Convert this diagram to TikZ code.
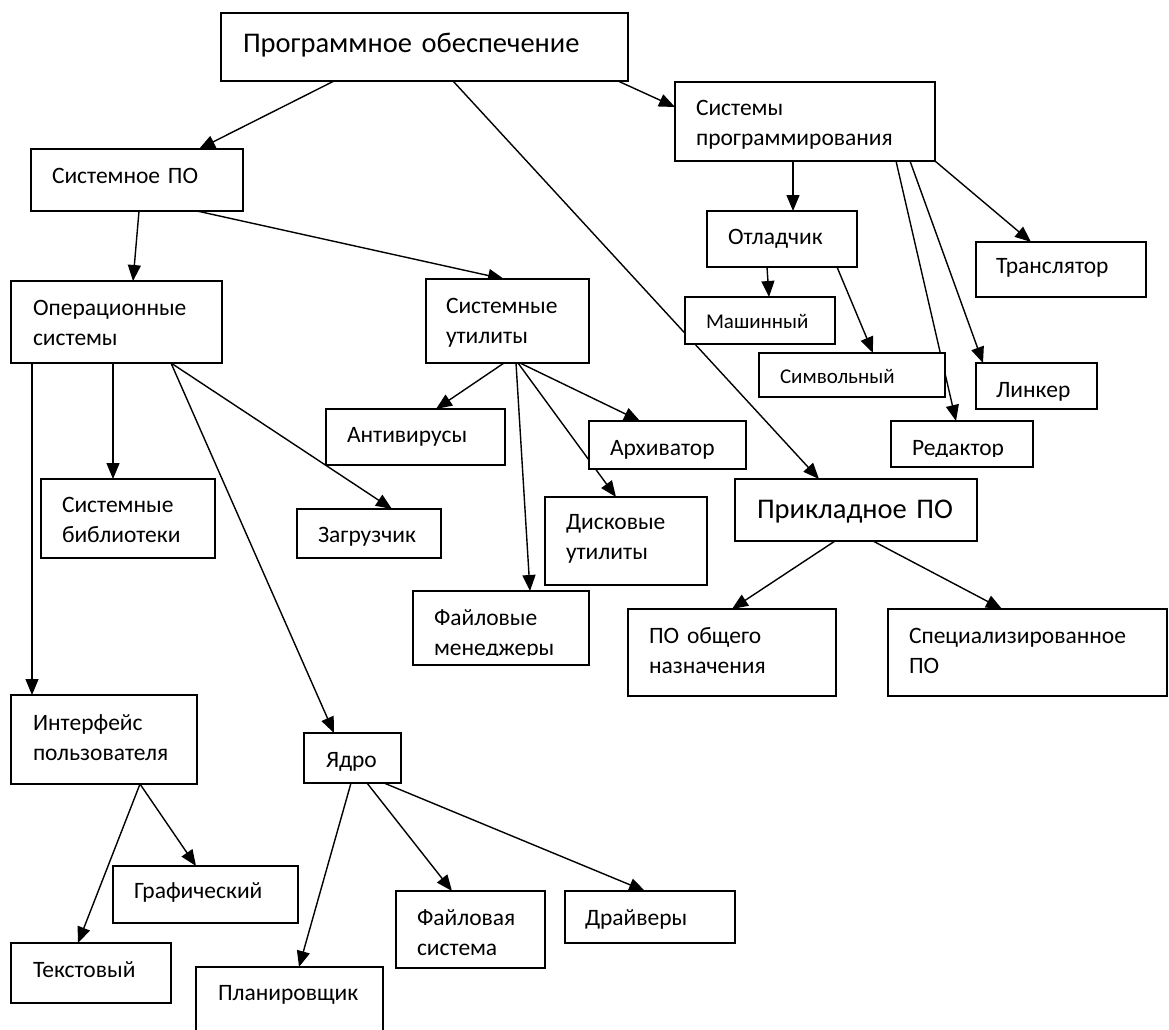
\documentclass[tikz,border=0pt]{standalone}
\usepackage{fontspec}
\setmainfont{Carlito}
\usetikzlibrary{arrows.meta}
\pgfdeclarelayer{bg}
\pgfdeclarelayer{paper}
\pgfsetlayers{paper,bg,main}
\tikzset{
  box/.style={draw, line width=1.6pt, fill=white, anchor=north west, outer sep=0pt,
    inner ysep=0pt, align=left, font=\fontsize{23.5}{30}\selectfont},
  big/.style={font=\fontsize{28.5}{34}\selectfont},
  small/.style={font=\fontsize{21}{26}\selectfont},
  conn/.style={line width=1.4pt, -{Triangle[length=16pt,width=13pt]}},
}
\begin{document}
\begin{tikzpicture}[x=1pt,y=-1pt]
\useasboundingbox (0,0) rectangle (1169,1029);
\begin{pgfonlayer}{paper}
\fill[white] (0,0) rectangle (1169,1029);
\end{pgfonlayer}

% nodes
\node[box,big, inner xsep=22pt, text width=363pt, text height=39pt, text depth=29pt] (prog) at (221,13) {Программное обеспечение};
\node[box, inner xsep=21pt, text width=170pt, text height=34pt, text depth=28pt] (sys) at (31,149) {Системное ПО};
\node[box, inner xsep=22pt, text width=167pt, text height=34pt, text depth=48pt] (os) at (11,281) {Операционные\\системы};
\node[box, inner xsep=20pt, text width=123pt, text height=34pt, text depth=50pt] (util) at (426,279) {Системные\\утилиты};
\node[box, inner xsep=21pt, text width=218pt, text height=33pt, text depth=46pt] (prsys) at (675,82) {Системы\\программирования};
\node[box, inner xsep=21pt, text width=108pt, text height=33pt, text depth=23pt] (debug) at (707,211) {Отладчик};
\node[box,small, inner xsep=21pt, text width=108pt, text height=31pt, text depth=16pt] (mach) at (685,297) {Машинный};
\node[box,small, inner xsep=21pt, text width=144pt, text height=30pt, text depth=14pt] (symb) at (759,353) {Символьный};
\node[box, inner xsep=20pt, text width=130pt, text height=31pt, text depth=24pt] (trans) at (976,242) {Транслятор};
\node[box, inner xsep=20pt, text width=81pt, text height=34pt, text depth=12pt] (link) at (976,363) {Линкер};
\node[box, inner xsep=21pt, text width=100pt, text height=34pt, text depth=12pt] (edit) at (891,421) {Редактор};
\node[box, inner xsep=21pt, text width=115pt, text height=34pt, text depth=14pt] (arch) at (589,421) {Архиватор};
\node[box,big, inner xsep=22pt, text width=198pt, text height=39pt, text depth=23pt] (app) at (735,479) {Прикладное ПО};
\node[box, inner xsep=21pt, text width=120pt, text height=32pt, text depth=56pt] (disk) at (545,497) {Дисковые\\утилиты};
\node[box, inner xsep=21pt, text width=166pt, text height=34pt, text depth=53pt] (gen) at (628,609) {ПО общего\\назначения};
\node[box, inner xsep=21pt, text width=237pt, text height=34pt, text depth=53pt] (spec) at (888,609) {Специализированное\\ПО};
\node[box, inner xsep=21pt, text width=132pt, text height=33pt, text depth=46pt] (lib) at (41,479) {Системные\\библиотеки};
\node[box, inner xsep=21pt, text width=102pt, text height=33pt, text depth=16pt] (boot) at (297,509) {Загрузчик};
\node[box, inner xsep=21pt, text width=137pt, text height=33pt, text depth=23pt] (anti) at (326,409) {Антивирусы};
\node[box, inner xsep=21pt, text width=134pt, text height=34pt, text depth=40pt] (fm) at (413,591) {Файловые\\менеджеры};
\node[box, inner xsep=22pt, text width=142pt, text height=35pt, text depth=54pt] (ui) at (11,695) {Интерфейс\\пользователя};
\node[box, inner xsep=22pt, text width=53pt, text height=34pt, text depth=16pt] (core) at (304,733) {Ядро};
\node[box, inner xsep=21pt, text width=143pt, text height=32pt, text depth=25pt] (gfx) at (113,866) {Графический};
\node[box, inner xsep=22pt, text width=116pt, text height=34pt, text depth=26pt] (txt) at (11,943) {Текстовый};
\node[box, inner xsep=22pt, text width=143pt, text height=33pt, text depth=57pt] (sched) at (196,967) {Планировщик};
\node[box, inner xsep=21pt, text width=107pt, text height=34pt, text depth=43pt] (fs) at (396,891) {Файловая\\система};
\node[box, inner xsep=20pt, text width=130pt, text height=34pt, text depth=18pt] (drv) at (565,891) {Драйверы};

% clipped text bottoms
\fill[white] (414.8,655.5) rectangle (587.2,663.2);
\fill[white] (892.8,457) rectangle (1031.2,465.2);

% connectors (behind the boxes)
\begin{pgfonlayer}{bg}
\draw[conn] ([xshift=113pt]prog.south west) -- ([xshift=168pt]sys.north west);
\draw[conn] ([xshift=232pt]prog.south west) -- ([xshift=84pt]app.north west);
\draw[conn] ([xshift=-10pt]prog.south east) -- ([yshift=-25pt]prsys.north west);
\draw[conn] ([xshift=108pt]sys.south west) -- ([xshift=122pt]os.north west);
\draw[conn] ([xshift=166pt]sys.south west) -- ([xshift=78pt]util.north west);
\draw[conn] ([xshift=102pt]os.south west) -- ([xshift=72pt]lib.north west);
\draw[conn] ([xshift=160pt]os.south west) -- ([xshift=95pt]boot.north west);
\draw[conn] ([xshift=160pt]os.south west) -- ([xshift=30pt]core.north west);
\draw[conn] ([xshift=21pt]os.south west) -- ([xshift=21pt]ui.north west);
\draw[conn] ([xshift=78pt]util.south west) -- ([xshift=110pt]anti.north west);
\draw[conn] ([xshift=90pt]util.south west) -- ([xshift=117pt]fm.north west);
\draw[conn] ([xshift=92pt]util.south west) -- ([xshift=71pt]disk.north west);
\draw[conn] ([xshift=94pt]util.south west) -- ([xshift=51pt]arch.north west);
\draw[conn] ([xshift=118pt]prsys.south west) -- ([xshift=86pt]debug.north west);
\draw[conn] ([xshift=60pt]debug.south west) -- ([xshift=84pt]mach.north west);
\draw[conn] ([xshift=130pt]debug.south west) -- ([xshift=114pt]symb.north west);
\draw[conn] ([xshift=221pt]prsys.south west) -- ([xshift=65pt]edit.north west);
\draw[conn] ([xshift=235pt]prsys.south west) -- ([xshift=7pt]link.north west);
\draw[conn] (prsys.south east) -- ([xshift=55pt]trans.north west);
\draw[conn] ([xshift=100pt]app.south west) -- ([xshift=104pt]gen.north west);
\draw[conn] ([xshift=138pt]app.south west) -- ([xshift=114pt]spec.north west);
\draw[conn] ([xshift=129pt]ui.south west) -- ([xshift=83pt]gfx.north west);
\draw[conn] ([xshift=129pt]ui.south west) -- ([xshift=67pt]txt.north west);
\draw[conn] ([xshift=47pt]core.south west) -- ([xshift=103pt]sched.north west);
\draw[conn] ([xshift=63pt]core.south west) -- ([xshift=56pt]fs.north west);
\draw[conn] ([xshift=80pt]core.south west) -- ([xshift=80pt]drv.north west);
\end{pgfonlayer}
\end{tikzpicture}
\end{document}
